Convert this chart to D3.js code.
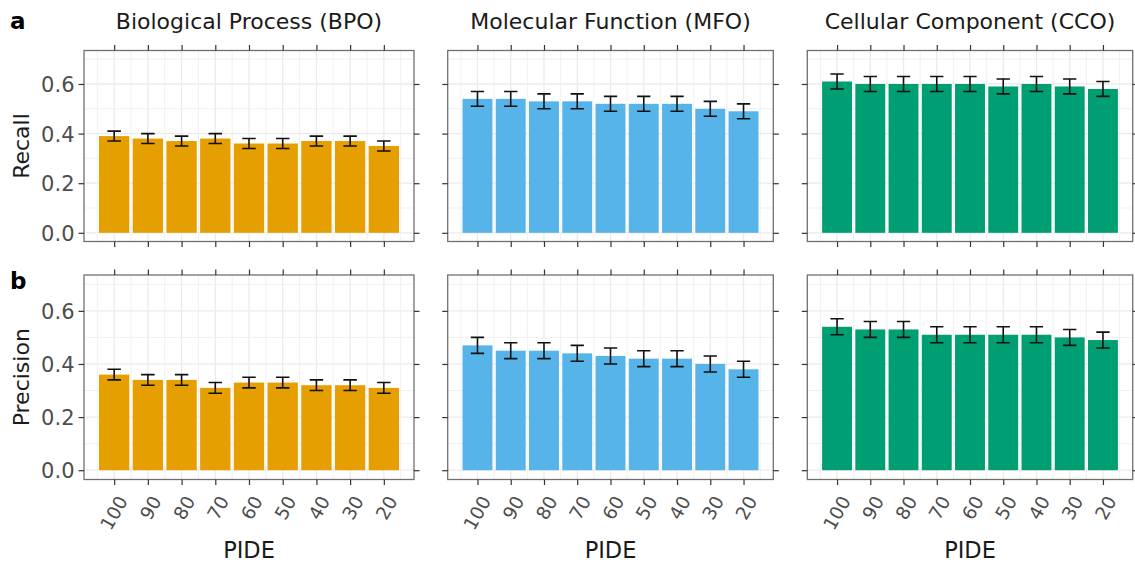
<!DOCTYPE html>
<html>
<head>
<meta charset="utf-8">
<script src="https://cdn.jsdelivr.net/npm/d3@7"></script>
<style>
  html, body { margin: 0; padding: 0; background: #ffffff; }
  svg { display: block; }
  text { font-family: "DejaVu Sans", "Liberation Sans", Arial, sans-serif; }
</style>
</head>
<body>
<svg id="chart" width="1135" height="564"></svg>
<script>
// ---- data -------------------------------------------------------------
const pide = [100, 90, 80, 70, 60, 50, 40, 30, 20];
const ontologies = ["Biological Process (BPO)", "Molecular Function (MFO)", "Cellular Component (CCO)"];
const metrics = ["Recall", "Precision"];
const panelTags = ["a", "b"];

const recallBPO = [0.39, 0.38, 0.37, 0.38, 0.36, 0.36, 0.37, 0.37, 0.35];
const recallMFO = [0.54, 0.54, 0.53, 0.53, 0.52, 0.52, 0.52, 0.50, 0.49];
const recallCCO = [0.61, 0.60, 0.60, 0.60, 0.60, 0.59, 0.60, 0.59, 0.58];
const precisionBPO = [0.36, 0.34, 0.34, 0.31, 0.33, 0.33, 0.32, 0.32, 0.31];
const precisionMFO = [0.47, 0.45, 0.45, 0.44, 0.43, 0.42, 0.42, 0.40, 0.38];
const precisionCCO = [0.54, 0.53, 0.53, 0.51, 0.51, 0.51, 0.51, 0.50, 0.49];

// half-width of the error bars
const errRecallBPO = [0.02, 0.02, 0.02, 0.02, 0.02, 0.02, 0.02, 0.02, 0.02];
const errRecallMFO = [0.03, 0.03, 0.03, 0.03, 0.03, 0.03, 0.03, 0.03, 0.03];
const errRecallCCO = [0.03, 0.03, 0.03, 0.03, 0.03, 0.03, 0.03, 0.03, 0.03];
const errPrecisionBPO = [0.02, 0.02, 0.02, 0.02, 0.02, 0.02, 0.02, 0.02, 0.02];
const errPrecisionMFO = [0.03, 0.03, 0.03, 0.03, 0.03, 0.03, 0.03, 0.03, 0.03];
const errPrecisionCCO = [0.03, 0.03, 0.03, 0.03, 0.03, 0.03, 0.03, 0.03, 0.03];

const yTicks = [0, 0.2, 0.4, 0.6];
const yMinorTicks = [0.1, 0.3, 0.5, 0.7];
const xMinorTicks = [105, 95, 85, 75, 65, 55, 45, 35, 25, 15];
const xTitle = "PIDE";

// ---- styling / layout -------------------------------------------------
const fills = ["#E69F00", "#56B4E9", "#009E73"];
const colX = [[84, 414], [447.7, 773.3], [807.3, 1132.7]];
const rowY = [[50.5, 241.5], [275, 479.5]];   // [top, bottom]
const barWidth = 9;     // in PIDE units
const capWidth = 4;     // in PIDE units
const tickLen = 5.5;

const grid = [
  [recallBPO, recallMFO, recallCCO],
  [precisionBPO, precisionMFO, precisionCCO]
];
const errs = [
  [errRecallBPO, errRecallMFO, errRecallCCO],
  [errPrecisionBPO, errPrecisionMFO, errPrecisionCCO]
];

const svg = d3.select("#chart");

// continuous axes, expanded 5% beyond the data range (bars span 104.5..15.5, y limits 0..0.7)
const xDomain = [104.5 + 0.05 * 89, 15.5 - 0.05 * 89];
const yDomain = [0 - 0.05 * 0.7, 0.7 + 0.05 * 0.7];

for (let r = 0; r < 2; r++) {
  const [top, bottom] = rowY[r];
  for (let c = 0; c < 3; c++) {
    const [x0, x1] = colX[c];
    const x = d3.scaleLinear().domain(xDomain).range([x0, x1]);
    const y = d3.scaleLinear().domain(yDomain).range([bottom, top]);
    const g = svg.append("g");
    const vals = grid[r][c];
    const er = errs[r][c];

    // panel background grid
    g.append("g").selectAll("line").data(xMinorTicks).join("line")
      .attr("x1", d => x(d)).attr("x2", d => x(d))
      .attr("y1", top).attr("y2", bottom)
      .attr("stroke", "#ebebeb").attr("stroke-width", 0.7);
    g.append("g").selectAll("line").data(yMinorTicks).join("line")
      .attr("y1", d => y(d)).attr("y2", d => y(d))
      .attr("x1", x0).attr("x2", x1)
      .attr("stroke", "#ebebeb").attr("stroke-width", 0.7);
    g.append("g").selectAll("line").data(pide).join("line")
      .attr("x1", d => x(d)).attr("x2", d => x(d))
      .attr("y1", top).attr("y2", bottom)
      .attr("stroke", "#ebebeb").attr("stroke-width", 1.3);
    g.append("g").selectAll("line").data(yTicks).join("line")
      .attr("y1", d => y(d)).attr("y2", d => y(d))
      .attr("x1", x0).attr("x2", x1)
      .attr("stroke", "#ebebeb").attr("stroke-width", 1.3);

    // bars
    g.append("g").selectAll("rect").data(pide).join("rect")
      .attr("x", d => x(d + barWidth / 2))
      .attr("width", d => x(d - barWidth / 2) - x(d + barWidth / 2))
      .attr("y", (d, i) => y(vals[i]))
      .attr("height", (d, i) => y(0) - y(vals[i]))
      .attr("fill", fills[c]);

    // error bars
    const eb = g.append("g").attr("stroke", "#111").attr("stroke-width", 1.6).attr("fill", "none");
    eb.selectAll("path").data(pide).join("path")
      .attr("d", (d, i) => {
        const lo = y(vals[i] - er[i]), hi = y(vals[i] + er[i]);
        const a = x(d + capWidth / 2), b = x(d - capWidth / 2), m = x(d);
        return `M${a},${hi}H${b}M${m},${hi}V${lo}M${a},${lo}H${b}`;
      });

    // panel border
    g.append("rect")
      .attr("x", x0).attr("y", top).attr("width", x1 - x0).attr("height", bottom - top)
      .attr("fill", "none").attr("stroke", "#707070").attr("stroke-width", 1.3);

    // ticks on all four sides
    const axBottom = d3.axisBottom(x).tickValues(pide).tickSize(tickLen).tickFormat(r === 1 ? d3.format("d") : "");
    const axTop = d3.axisTop(x).tickValues(pide).tickSize(tickLen).tickFormat("");
    const axLeft = d3.axisLeft(y).tickValues(yTicks).tickSize(tickLen).tickFormat(c === 0 ? d3.format(".1f") : "");
    const axRight = d3.axisRight(y).tickValues(yTicks).tickSize(tickLen).tickFormat("");

    const gb = g.append("g").attr("transform", `translate(0,${bottom})`).call(axBottom);
    const gt = g.append("g").attr("transform", `translate(0,${top})`).call(axTop);
    const gl = g.append("g").attr("transform", `translate(${x0},0)`).call(axLeft);
    const gr = g.append("g").attr("transform", `translate(${x1},0)`).call(axRight);
    [gb, gt, gl, gr].forEach(a => {
      a.select(".domain").remove();
      a.selectAll(".tick line").attr("stroke", "#333").attr("stroke-width", 1.2);
    });

    gl.selectAll(".tick text")
      .attr("x", -(tickLen + 4))
      .attr("dy", "0.36em")
      .attr("fill", "#4d4d4d")
      .style("font-size", "21px");

    gb.selectAll(".tick text")
      .attr("fill", "#4d4d4d")
      .style("font-size", "18.5px")
      .attr("text-anchor", "end")
      .attr("dy", "0.36em")
      .attr("x", 0).attr("y", 0)
      .attr("transform", `translate(8,${tickLen + 12.5}) rotate(-60)`);

    if (r === 0) {
      svg.append("text")
        .attr("x", (x0 + x1) / 2).attr("y", 29.3)
        .attr("text-anchor", "middle")
        .attr("fill", "#1a1a1a")
        .style("font-size", "22px")
        .text(ontologies[c]);
    }
    if (r === 1) {
      svg.append("text")
        .attr("x", (x0 + x1) / 2).attr("y", 557.5)
        .attr("text-anchor", "middle")
        .attr("fill", "#1a1a1a")
        .style("font-size", "22.5px")
        .text(xTitle);
    }
  }

  svg.append("text")
    .attr("transform", `translate(28.5,${(top + bottom) / 2}) rotate(-90)`)
    .attr("text-anchor", "middle")
    .attr("fill", "#1a1a1a")
    .style("font-size", "22px")
    .text(metrics[r]);

  svg.append("text")
    .attr("x", 10).attr("y", r === 0 ? 29.3 : 289)
    .attr("fill", "#000")
    .style("font-size", "23px")
    .style("font-weight", "bold")
    .text(panelTags[r]);
}
</script>
</body>
</html>
